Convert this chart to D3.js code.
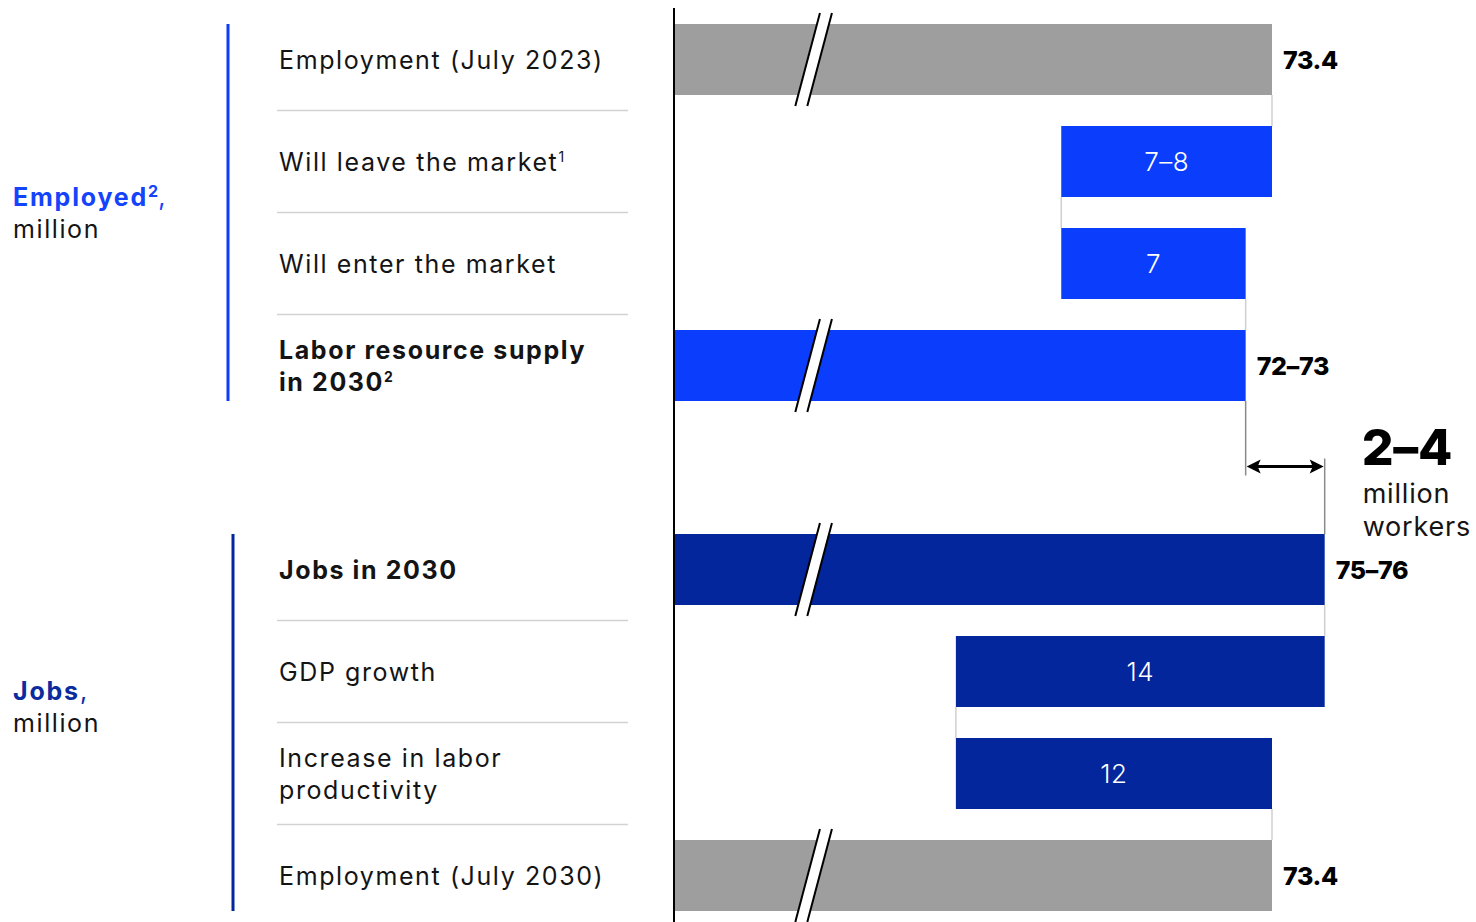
<!DOCTYPE html>
<html>
<head>
<meta charset="utf-8">
<script src="https://cdn.jsdelivr.net/npm/d3@7"></script>
<style>
  body { margin: 0; background: #ffffff; }
  svg { display: block; }
</style>
</head>
<body>
<svg id="chart" width="1476" height="922"></svg>
<script>
// ---- Data -------------------------------------------------------------
const categories = [
  "Employment (July 2023)", "Will leave the market", "Will enter the market",
  "Labor resource supply in 2030", "Jobs in 2030", "GDP growth",
  "Increase in labor productivity", "Employment (July 2030)"
];
const categoryLines = [
  ["Employment (July 2023)"], ["Will leave the market"], ["Will enter the market"],
  ["Labor resource supply", "in 2030"], ["Jobs in 2030"], ["GDP growth"],
  ["Increase in labor", "productivity"], ["Employment (July 2030)"]
];
const footnoteMarks = ["", "1", "", "2", "", "", "", ""];
const boldRows = [false, false, false, true, true, false, false, false];
const rowGroup = [0, 0, 0, 0, 1, 1, 1, 1];
const rowSlot = [0, 1, 2, 3, 5, 6, 7, 8];   // slot 4 is left open between the two blocks

const groupNames = ["Employed", "Jobs"];
const groupNotes = ["2", ""];
const groupUnits = ["million", "million"];

// values, million people
const employment2023 = 73.4;
const leaveRange = [7, 8];
const enterValue = 7;
const supplyRange = [72, 73];
const jobsRange = [75, 76];
const gdpValue = 14;
const productivityValue = 12;
const employment2030 = 73.4;
const shortfallRange = [2, 4];
const shortfallUnit = ["million", "workers"];

// ---- Waterfall ----------------------------------------------------------
const axisStart = 50.7;   // value at the (broken) axis
const breakAt = 56;       // where the break symbol sits on total bars

const leaveLow = employment2023 - leaveRange[1];
const supply = leaveLow + enterValue;
const productivityLow = employment2030 - productivityValue;
const jobs = productivityLow + gdpValue;

const range = r => r[0] + "\u2013" + r[1];

const GREY = "#9e9e9e", BLUE = "#0b3dfc", NAVY = "#03269c";

const bars = [
  { x0: axisStart, x1: employment2023, fill: GREY, label: String(employment2023), total: true },
  { x0: leaveLow, x1: employment2023, fill: BLUE, label: range(leaveRange), total: false },
  { x0: leaveLow, x1: supply, fill: BLUE, label: String(enterValue), total: false },
  { x0: axisStart, x1: supply, fill: BLUE, label: range(supplyRange), total: true },
  { x0: axisStart, x1: jobs, fill: NAVY, label: range(jobsRange), total: true },
  { x0: productivityLow, x1: jobs, fill: NAVY, label: String(gdpValue), total: false },
  { x0: productivityLow, x1: employment2030, fill: NAVY, label: String(productivityValue), total: false },
  { x0: axisStart, x1: employment2030, fill: GREY, label: String(employment2030), total: true }
].map((b, i) => Object.assign(b, { slot: rowSlot[i], row: i }));

// ---- Scales -------------------------------------------------------------
const x = d3.scaleLinear().domain([axisStart, employment2023]).range([674, 1272]);
const y = d3.scaleBand().domain(d3.range(9)).range([8.5, 926.5])
  .paddingInner(0.304).paddingOuter(0.152);
const bw = y.bandwidth();
const step = y.step();
const mid = s => y(s) + bw / 2;

const svg = d3.select("#chart");
const FONT = "Inter, 'DejaVu Sans', sans-serif";
const NUMFONT = "Inter, Roboto, sans-serif";

// ---- Row labels & separators -------------------------------------------
const labelX = 279;
categoryLines.forEach((lines, i) => {
  const cy = mid(rowSlot[i]);
  const n = lines.length;
  lines.forEach((line, k) => {
    const t = svg.append("text")
      .attr("x", labelX)
      .attr("y", cy + (k - (n - 1) / 2) * 32 + 9)
      .attr("font-family", FONT)
      .attr("font-size", 25)
      .attr("font-weight", boldRows[i] ? 700 : 400)
      .attr("letter-spacing", 1.6)
      .attr("fill", "#141414")
      .text(line);
    if (k === n - 1 && footnoteMarks[i]) {
      t.append("tspan").attr("font-size", 14).attr("dy", -9).text(footnoteMarks[i]);
    }
  });
});

categories.forEach((c, i) => {
  if (i < categories.length - 1 && rowGroup[i] === rowGroup[i + 1]) {
    const yy = y(rowSlot[i]) + bw + (step - bw) / 2;
    svg.append("line")
      .attr("x1", 277).attr("x2", 628).attr("y1", yy).attr("y2", yy)
      .attr("stroke", "#d2d2d2").attr("stroke-width", 1.5);
  }
});

// ---- Group brackets & labels -------------------------------------------
const groupColors = ["#1443fb", "#0a2c9e"];
const groupBarX = [228, 233];
groupNames.forEach((g, gi) => {
  const slots = rowSlot.filter((s, i) => rowGroup[i] === gi);
  const top = y(d3.min(slots)), bottom = y(d3.max(slots)) + bw;
  svg.append("line")
    .attr("x1", groupBarX[gi]).attr("x2", groupBarX[gi])
    .attr("y1", top).attr("y2", bottom)
    .attr("stroke", gi === 0 ? BLUE : NAVY).attr("stroke-width", 3);

  const cy = gi === 0 ? (top + bottom) / 2 : (top + bottom) / 2 - 16;
  const t = svg.append("text")
    .attr("x", 13).attr("y", cy - 16 + 9)
    .attr("font-family", FONT).attr("font-size", 25).attr("font-weight", 700)
    .attr("letter-spacing", 1.8)
    .attr("fill", groupColors[gi]).text(g);
  if (groupNotes[gi]) {
    t.append("tspan").attr("font-size", 16).attr("letter-spacing", 0).attr("dy", -9).text(groupNotes[gi]);
    t.append("tspan").attr("font-weight", 400).attr("dy", 9).text(",");
  } else {
    t.append("tspan").attr("font-weight", 400).text(",");
  }
  svg.append("text")
    .attr("x", 13).attr("y", cy + 16 + 9)
    .attr("font-family", FONT).attr("font-size", 25).attr("font-weight", 400)
    .attr("letter-spacing", 1.6)
    .attr("fill", "#141414").text(groupUnits[gi]);
});

// ---- Connectors ---------------------------------------------------------
const same = (a, b) => Math.abs(a - b) < 1e-9;
for (let i = 0; i < bars.length - 1; i++) {
  const a = bars[i], b = bars[i + 1];
  if (rowGroup[i] !== rowGroup[i + 1]) continue;
  const v = same(a.x1, b.x1) ? a.x1 : same(a.x0, b.x0) ? a.x0 : null;
  if (v === null) continue;
  svg.append("line")
    .attr("x1", x(v)).attr("x2", x(v))
    .attr("y1", y(a.slot) + bw).attr("y2", y(b.slot))
    .attr("stroke", "#cfcfcf").attr("stroke-width", 1.5);
}

// ---- Bars ---------------------------------------------------------------
svg.append("g").selectAll("rect").data(bars).join("rect")
  .attr("x", d => x(d.x0))
  .attr("y", d => y(d.slot))
  .attr("width", d => x(d.x1) - x(d.x0))
  .attr("height", bw)
  .attr("fill", d => d.fill);

// break symbols on total bars
const slope = 0.265, gapW = 12, over = 11;
bars.filter(d => d.total).forEach(d => {
  const cx = x(breakAt), cy = mid(d.slot), hh = bw / 2 + over;
  const bl = cx - slope * hh - gapW / 2, tl = cx + slope * hh - gapW / 2;
  svg.append("polygon")
    .attr("points", [[bl, cy + hh], [bl + gapW, cy + hh], [tl + gapW, cy - hh], [tl, cy - hh]].join(" "))
    .attr("fill", "#ffffff");
  [0, gapW].forEach(off => {
    svg.append("line")
      .attr("x1", bl + off).attr("y1", cy + hh)
      .attr("x2", tl + off).attr("y2", cy - hh)
      .attr("stroke", "#000").attr("stroke-width", 2);
  });
});

// axis line
svg.append("line")
  .attr("x1", x(axisStart)).attr("x2", x(axisStart))
  .attr("y1", 8).attr("y2", 922)
  .attr("stroke", "#000").attr("stroke-width", 2);

// ---- Value labels -------------------------------------------------------
svg.append("g").selectAll("text").data(bars).join("text")
  .attr("x", d => d.total ? x(d.x1) + 11 : (x(d.x0) + x(d.x1)) / 2)
  .attr("y", d => mid(d.slot) + 9)
  .attr("text-anchor", d => d.total ? "start" : "middle")
  .attr("font-family", NUMFONT)
  .attr("font-size", d => d.total ? 25 : 26)
  .attr("font-weight", d => d.total ? 800 : 300)
  .attr("letter-spacing", d => d.total ? -0.3 : 0.5)
  .attr("fill", d => d.total ? "#000" : "#ffffff")
  .text(d => d.label);

// ---- Shortfall annotation ----------------------------------------------
const gapY = (y(3) + bw + y(5)) / 2 - 1;
const xs = x(supply), xj = x(jobs);
svg.append("line").attr("x1", xs).attr("x2", xs)
  .attr("y1", y(3) + bw).attr("y2", gapY + 9)
  .attr("stroke", "#8a8a8a").attr("stroke-width", 1.5);
svg.append("line").attr("x1", xj).attr("x2", xj)
  .attr("y1", gapY - 8).attr("y2", y(5))
  .attr("stroke", "#8a8a8a").attr("stroke-width", 1.5);
svg.append("line").attr("x1", xs + 6).attr("x2", xj - 6)
  .attr("y1", gapY).attr("y2", gapY)
  .attr("stroke", "#000").attr("stroke-width", 3);
[[xs + 1, 1], [xj - 1, -1]].forEach(([px, dir]) => {
  svg.append("path")
    .attr("d", `M${px},${gapY} L${px + dir * 14},${gapY - 7} L${px + dir * 11},${gapY} L${px + dir * 14},${gapY + 7} Z`)
    .attr("fill", "#000");
});

svg.append("text")
  .attr("x", xj + 37).attr("y", gapY - 2)
  .attr("font-family", FONT).attr("font-size", 50).attr("font-weight", 800)
  .attr("letter-spacing", -0.3)
  .attr("fill", "#000").text(range(shortfallRange));
shortfallUnit.forEach((w, k) => {
  svg.append("text")
    .attr("x", xj + 38).attr("y", gapY + 36 + k * 33)
    .attr("font-family", FONT).attr("font-size", 27).attr("font-weight", 400)
    .attr("letter-spacing", 0.8)
    .attr("fill", "#141414").text(w);
});
</script>
</body>
</html>
